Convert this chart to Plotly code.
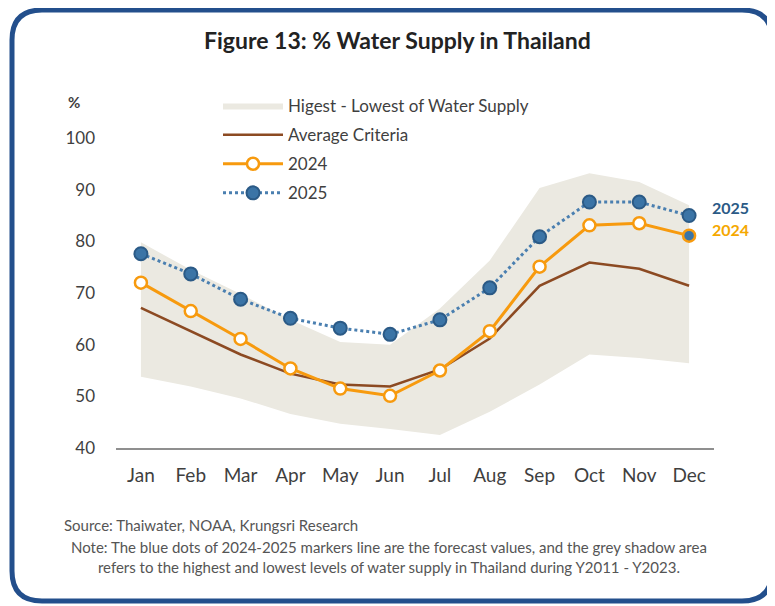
import plotly.graph_objects as go

months = ["Jan", "Feb", "Mar", "Apr", "May", "Jun", "Jul", "Aug", "Sep", "Oct", "Nov", "Dec"]
band_high = [79.8, 74.5, 69.8, 64.8, 60.5, 60.0, 67.0, 76.3, 90.3, 93.2, 91.5, 87.0]
band_low = [53.8, 51.9, 49.6, 46.6, 44.7, 43.7, 42.5, 47.0, 52.3, 58.1, 57.4, 56.4]
avg_criteria = [67.1, 62.6, 58.1, 54.4, 52.3, 51.9, 55.2, 61.2, 71.4, 75.9, 74.7, 71.4]
y2024 = [72.0, 66.5, 61.1, 55.4, 51.5, 50.1, 55.0, 62.6, 75.1, 83.1, 83.5, 81.1]
y2025 = [77.6, 73.7, 68.8, 65.1, 63.2, 62.0, 64.8, 71.0, 80.9, 87.6, 87.6, 85.0]
y_ticks = [40, 50, 60, 70, 80, 90, 100]

# page has an 8px body margin; figure sized so that the page is 775x606
OFF = 8
W, H = 775 - OFF, 606 - OFF
PL, PR, PT, PB = 116, 714, 138, 448  # plot area in page pixels
L, T = PL - OFF, PT - OFF
R, B = W - (PR - OFF), H - (PB - OFF)
PW, PH = PR - PL, PB - PT

def px(x):
    return (x - PL) / PW

def py(y):
    return (PB - y) / PH

FONT = "Lato, Open Sans, sans-serif"
ORANGE = "#f79a0e"
BLUE = "#3b74a6"
BLUE_DARK = "#2b5a86"
BROWN = "#8c4a22"
BAND = "#ebe9e1"
TXT = "#3f3f3f"

fig = go.Figure()
fig.add_trace(go.Scatter(x=months, y=band_low, mode="lines", line=dict(width=0, color=BAND),
                         showlegend=False, hoverinfo="skip", legendgroup="a"))
fig.add_trace(go.Scatter(x=months, y=band_high, mode="lines", line=dict(width=0, color=BAND),
                         fill="tonexty", fillcolor=BAND, name="Higest - Lowest of Water Supply",
                         legendgroup="a"))
fig.add_trace(go.Scatter(x=months, y=avg_criteria, mode="lines", line=dict(color=BROWN, width=2.5),
                         name="Average Criteria", legendgroup="b"))
fill2024 = ["white"] * 11 + [BLUE]
fig.add_trace(go.Scatter(x=months, y=y2024, mode="lines+markers", name="2024", legendgroup="c",
                         line=dict(color=ORANGE, width=3),
                         marker=dict(size=12, color=fill2024, line=dict(color=ORANGE, width=2.5))))
fig.add_trace(go.Scatter(x=months, y=y2025, mode="lines+markers", name="2025", legendgroup="d",
                         line=dict(color="#4a7fb0", width=3, dash="dot"),
                         marker=dict(size=13, color=BLUE, line=dict(color=BLUE_DARK, width=2))))

# rounded border
x0, x1, y0, y1 = px(12), px(772), py(601), py(10)
rx, ry = 30 / PW, 30 / PH
path = (f"M {x0+rx},{y1} L {x1-rx},{y1} Q {x1},{y1} {x1},{y1-ry} "
        f"L {x1},{y0+ry} Q {x1},{y0} {x1-rx},{y0} L {x0+rx},{y0} Q {x0},{y0} {x0},{y0+ry} "
        f"L {x0},{y1-ry} Q {x0},{y1} {x0+rx},{y1} Z")
fig.add_shape(type="path", path=path, xref="paper", yref="paper",
              line=dict(color="#234f8c", width=5), layer="above")

annotations = [
    dict(text="<b>Figure 13: % Water Supply in Thailand</b>", x=px(397), y=py(40),
         font=dict(size=23, color="#222222")),
    dict(text="<b>%</b>", x=px(74), y=py(102), font=dict(size=15, color=TXT)),
    dict(text="<b>2025</b>", x=px(710), y=py(207), xanchor="left", font=dict(size=16, color=BLUE_DARK)),
    dict(text="<b>2024</b>", x=px(710), y=py(229), xanchor="left", font=dict(size=16, color="#f5a800")),
    dict(text="Source: Thaiwater, NOAA, Krungsri Research", x=px(62), y=py(525), xanchor="left",
         font=dict(size=15, color="#555555")),
    dict(text="Note: The blue dots of 2024-2025 markers line are the forecast values, and the grey shadow area<br>"
              "refers to the highest and lowest levels of water supply in Thailand during Y2011 - Y2023.",
         x=px(389), y=py(557), align="center", font=dict(size=15, color="#555555")),
]
for a in annotations:
    a.setdefault("xanchor", "center")
    a.update(xref="paper", yref="paper", yanchor="middle", showarrow=False)

fig.update_layout(
    width=W, height=H, margin=dict(l=L, r=R, t=T, b=B),
    paper_bgcolor="white", plot_bgcolor="white",
    font=dict(family=FONT, color=TXT),
    annotations=annotations,
    legend=dict(x=px(218), y=py(88), xanchor="left", yanchor="top", bgcolor="rgba(0,0,0,0)",
                font=dict(size=17, color=TXT), traceorder="grouped", tracegroupgap=4,
                itemwidth=60),
    xaxis=dict(range=[-0.5, 11.5], showgrid=False, showline=True, linecolor="#8f8f8f", linewidth=2,
               ticks="", tickfont=dict(size=19, color=TXT), ticklabelstandoff=9, fixedrange=True),
    yaxis=dict(range=[40, 100], tickvals=y_ticks, showgrid=False, zeroline=False, showline=False,
               ticks="", tickfont=dict(size=17, color=TXT), ticklabelstandoff=20),
)
fig.write_html("out.html")
